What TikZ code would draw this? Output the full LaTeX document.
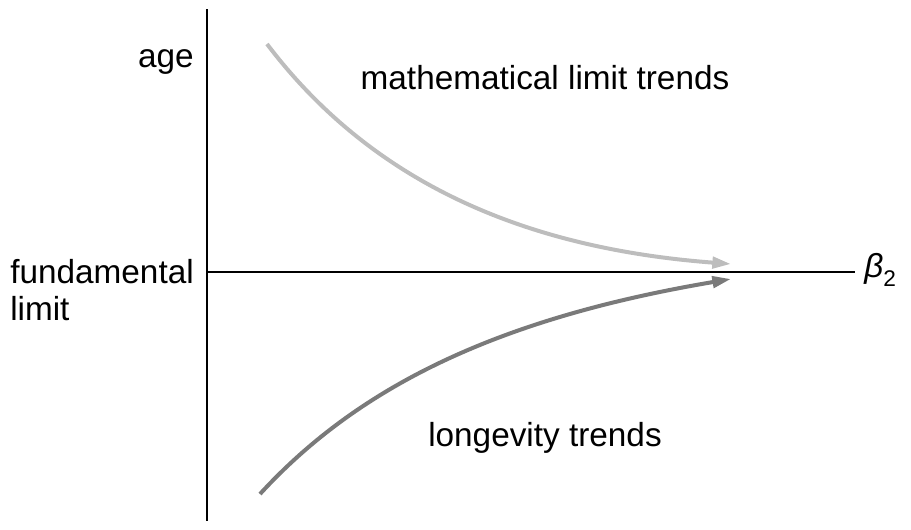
\documentclass[tikz,border=0pt]{standalone}
\usepackage{fontspec}
\setmainfont{Liberation Sans}
\usetikzlibrary{arrows.meta}
\definecolor{lightcurve}{HTML}{BDBDBD}
\definecolor{darkcurve}{HTML}{7A7A7A}
\begin{document}
\begin{tikzpicture}[x=0.75pt,y=-0.75pt,
  axis/.style={line width=2pt,black},
  trend/.style={line width=3pt,-{Triangle[length=14pt,width=8.5pt]}},
  lbl/.style={font=\fontsize{25}{28}\selectfont,inner sep=0pt}]
\useasboundingbox (0,0) rectangle (911,529);
\coordinate (ytop) at (207,9);
\coordinate (ybot) at (207,521);
\coordinate (xleft) at (207,272);
\coordinate (xright) at (855,272);
\draw[axis] (ytop) -- (ybot);
\draw[axis] (xleft) -- (xright);
\coordinate (u0) at (267,44);
\coordinate (u1) at (731,264);
\coordinate (l0) at (260,494);
\coordinate (l1) at (731,279);
\draw[trend,lightcurve] (u0) .. controls (370,180) and (520,248) .. (u1);
\draw[trend,darkcurve] (l0) .. controls (360,385) and (500,318) .. (l1);
\node[lbl,anchor=east] (age) at (194,62) {age};
\node[lbl,anchor=east,align=left] (fund) at (194,290) {fundamental\\limit};
\node[lbl] (math) at (545,78) {mathematical limit trends};
\node[lbl] (long) at (545,438) {longevity trends};
\node[lbl,anchor=west] (beta) at (864,270) {\itshape β\raisebox{-0.5ex}{\upshape\fontsize{17}{20}\selectfont 2}};
\end{tikzpicture}
\end{document}
